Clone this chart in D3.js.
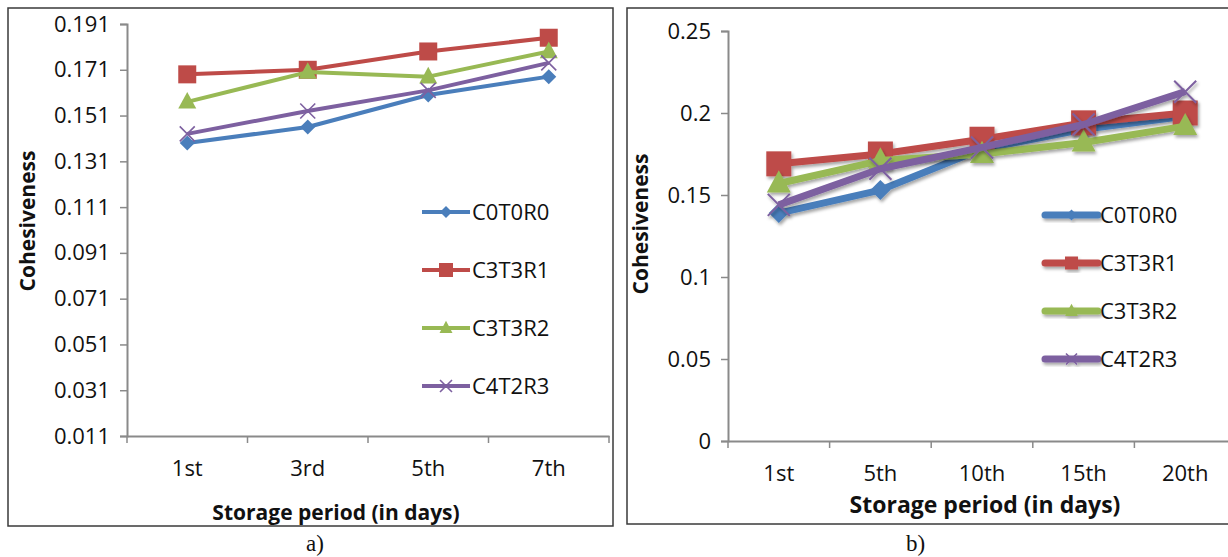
<!DOCTYPE html>
<html>
<head>
<meta charset="utf-8">
<script src="https://cdn.jsdelivr.net/npm/d3@7"></script>
<style>
  body { margin: 0; background: #fff; }
  text { font-family: "Open Sans", sans-serif; fill: #111; }
  .cap { font-family: "Liberation Serif", serif; }
</style>
</head>
<body>
<script>
// ---- data ----
var seriesNames = ["C0T0R0", "C3T3R1", "C3T3R2", "C4T2R3"];

var daysA = ["1st", "3rd", "5th", "7th"];
var a_C0T0R0 = [0.139, 0.146, 0.160, 0.168];
var a_C3T3R1 = [0.169, 0.171, 0.179, 0.185];
var a_C3T3R2 = [0.157, 0.170, 0.168, 0.179];
var a_C4T2R3 = [0.143, 0.153, 0.162, 0.174];
var ticksA = [0.011, 0.031, 0.051, 0.071, 0.091, 0.111, 0.131, 0.151, 0.171, 0.191];

var daysB = ["1st", "5th", "10th", "15th", "20th"];
var b_C0T0R0 = [0.139, 0.153, 0.178, 0.190, 0.198];
var b_C3T3R1 = [0.169, 0.175, 0.184, 0.194, 0.200];
var b_C3T3R2 = [0.157, 0.171, 0.175, 0.182, 0.192];
var b_C4T2R3 = [0.144, 0.166, 0.179, 0.193, 0.213];
var ticksB = [0, 0.05, 0.1, 0.15, 0.2, 0.25];

var colors = ["#4A7EBB", "#BE4B48", "#98B954", "#7D60A0"];
var shapes = ["diamond", "square", "triangle", "x"];

var svg = d3.select("body")
    .append("svg")
    .attr("width", 1228)
    .attr("height", 557)
    .style("display", "block");

var defs = svg.append("defs");
defs.append("filter")
    .attr("id", "shadow")
    .attr("x", "-20%").attr("y", "-20%")
    .attr("width", "140%").attr("height", "140%")
    .append("feDropShadow")
    .attr("dx", 1.5).attr("dy", 2.5)
    .attr("stdDeviation", 1.8)
    .attr("flood-color", "#000")
    .attr("flood-opacity", 0.35);

// marker path, r = half size
function markerPath(shape, r) {
    if (shape == "diamond") return "M0," + (-r) + "L" + r + ",0L0," + r + "L" + (-r) + ",0Z";
    if (shape == "square") return "M" + (-r) + "," + (-r) + "H" + r + "V" + r + "H" + (-r) + "Z";
    if (shape == "triangle") return "M0," + (-r * 1.1) + "L" + r + "," + (r * 0.75) + "L" + (-r) + "," + (r * 0.75) + "Z";
    return "M" + (-r) + "," + (-r) + "L" + r + "," + r + "M" + (-r) + "," + r + "L" + r + "," + (-r);
}

function drawChart(c) {
    var g = svg.append("g");

    // frame
    g.append("rect")
        .attr("x", c.box[0]).attr("y", c.box[1])
        .attr("width", c.box[2]).attr("height", c.box[3])
        .attr("fill", "none")
        .attr("stroke", "#3a3a3a")
        .attr("stroke-width", 1.5);

    var x = d3.scaleBand()
        .domain(c.days)
        .range([c.left, c.right]);

    var y = d3.scaleLinear()
        .domain([c.ticks[0], c.ticks[c.ticks.length - 1]])
        .range([c.bottom, c.top]);

    // y axis
    var yAxis = d3.axisLeft(y)
        .tickValues(c.ticks)
        .tickSize(7)
        .tickPadding(10)
        .tickFormat(c.fmt);
    var ya = g.append("g")
        .attr("transform", "translate(" + c.left + ",0)")
        .call(yAxis);
    ya.select(".domain").attr("stroke", "#8a8a8a").attr("stroke-width", 2);
    ya.selectAll(".tick line").attr("stroke", "#8a8a8a").attr("stroke-width", 1.5);
    ya.selectAll("text")
        .style("font-size", "22px")
        .style("font-family", "Open Sans")
        .attr("fill", "#111");

    // x axis: labels centred, ticks at band edges
    var xAxis = d3.axisBottom(x).tickSize(0).tickPadding(24);
    var xa = g.append("g")
        .attr("transform", "translate(0," + c.bottom + ")")
        .call(xAxis);
    xa.select(".domain").attr("stroke", "#8a8a8a").attr("stroke-width", 2);
    xa.selectAll("text")
        .style("font-size", "22px")
        .style("font-family", "Open Sans")
        .attr("fill", "#111");
    g.selectAll(".xedge")
        .data(c.days.concat(["end"]))
        .enter()
        .append("line")
        .attr("x1", function (d) { return d == "end" ? c.right : x(d); })
        .attr("x2", function (d) { return d == "end" ? c.right : x(d); })
        .attr("y1", c.bottom)
        .attr("y2", c.bottom + 7)
        .attr("stroke", "#8a8a8a")
        .attr("stroke-width", 1.5);

    // series
    var line = d3.line()
        .x(function (d, i) { return x(c.days[i]) + x.bandwidth() / 2; })
        .y(function (d) { return y(d); });

    c.series.forEach(function (vals, k) {
        var sg = g.append("g");
        if (c.shadow) sg.attr("filter", "url(#shadow)");
        sg.append("path")
            .datum(vals)
            .attr("d", line)
            .attr("fill", "none")
            .attr("stroke", colors[k])
            .attr("stroke-width", c.lw)
            .attr("stroke-linejoin", "round");
        sg.selectAll(".m")
            .data(vals)
            .enter()
            .append("path")
            .attr("transform", function (d, i) {
                return "translate(" + (x(c.days[i]) + x.bandwidth() / 2) + "," + y(d) + ")";
            })
            .attr("d", markerPath(shapes[k], c.ms[k]))
            .attr("fill", shapes[k] == "x" ? "none" : colors[k])
            .attr("stroke", colors[k])
            .attr("stroke-width", shapes[k] == "x" ? c.xw : 0);
    });

    // legend
    seriesNames.forEach(function (name, k) {
        var ly = c.legY + k * c.legGap;
        var lg = g.append("g");
        if (c.shadow) lg.attr("filter", "url(#shadow)");
        lg.append("line")
            .attr("x1", c.legX).attr("x2", c.legX + c.legW)
            .attr("y1", ly).attr("y2", ly)
            .attr("stroke", colors[k])
            .attr("stroke-width", c.lw)
            .attr("stroke-linecap", c.shadow ? "round" : "butt");
        lg.append("path")
            .attr("transform", "translate(" + (c.legX + c.legW / 2) + "," + ly + ")")
            .attr("d", markerPath(shapes[k], c.lms[k]))
            .attr("fill", shapes[k] == "x" ? "none" : colors[k])
            .attr("stroke", colors[k])
            .attr("stroke-width", shapes[k] == "x" ? 1.6 : 0);
        g.append("text")
            .attr("x", c.legX + c.legW + 2)
            .attr("y", ly)
            .attr("dy", "0.36em")
            .style("font-size", "22px")
            .text(name);
    });

    // axis titles
    g.append("text")
        .attr("transform", "translate(" + c.ytX + "," + c.ytY + ") rotate(-90)")
        .attr("text-anchor", "middle")
        .attr("dy", "0.36em")
        .style("font-size", "21px")
        .style("font-weight", "bold")
        .text("Cohesiveness");
    g.append("text")
        .attr("x", c.xtX)
        .attr("y", c.xtY)
        .attr("text-anchor", "middle")
        .attr("dy", "0.36em")
        .style("font-size", c.xtSize)
        .style("font-weight", "bold")
        .text("Storage period (in days)");

    svg.append("text")
        .attr("class", "cap")
        .attr("x", c.capX)
        .attr("y", 551)
        .style("font-size", "23px")
        .style("font-family", "Liberation Serif")
        .text(c.cap);
}

drawChart({
    box: [8, 8, 605, 518],
    days: daysA,
    ticks: ticksA,
    fmt: d3.format(".3f"),
    left: 127, right: 609, top: 24, bottom: 436,
    series: [a_C0T0R0, a_C3T3R1, a_C3T3R2, a_C4T2R3],
    lw: 4,
    ms: [7.5, 9, 9, 7.5],
    lms: [6, 7, 6.5, 6],
    xw: 1.6,
    shadow: false,
    legX: 422, legW: 48, legY: 212, legGap: 58,
    ytX: 27, ytY: 221,
    xtX: 336, xtY: 512, xtSize: "21px",
    capX: 306, cap: "a)"
});

drawChart({
    box: [627, 8, 640, 516],
    days: daysB,
    ticks: ticksB,
    fmt: function (d) { return d3.format("")(+d.toFixed(2)); },
    left: 728, right: 1236, top: 31, bottom: 441,
    series: [b_C0T0R0, b_C3T3R1, b_C3T3R2, b_C4T2R3],
    lw: 7,
    ms: [10, 12.5, 12, 11],
    lms: [5.5, 6.5, 6.5, 5.5],
    xw: 2,
    shadow: true,
    legX: 1045, legW: 53, legY: 215, legGap: 48,
    ytX: 640, ytY: 224,
    xtX: 985, xtY: 505, xtSize: "23px",
    capX: 906, cap: "b)"
});
</script>
</body>
</html>
